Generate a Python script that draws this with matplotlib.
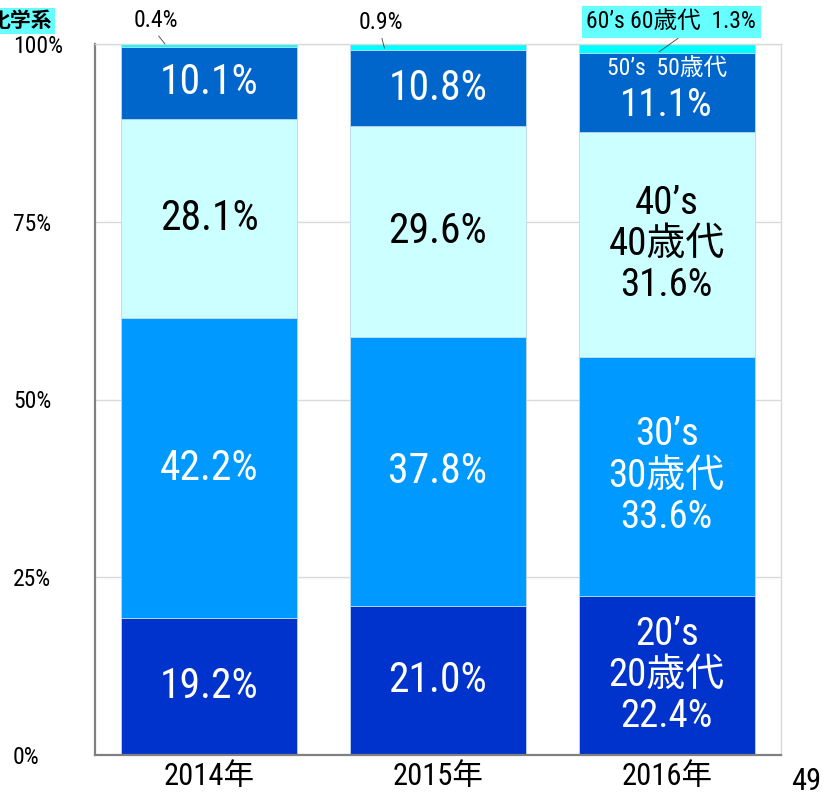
import matplotlib
matplotlib.use("Agg")
import matplotlib.pyplot as plt

# condensed latin font first, CJK fallback for 歳代 / 年 / 化学系
plt.rcParams['font.family'] = ['Roboto Condensed', 'Noto Sans CJK JP']

years = ["2014年", "2015年", "2016年"]
age20 = [19.2, 21.0, 22.4]
age30 = [42.2, 37.8, 33.6]
age40 = [28.1, 29.6, 31.6]
age50 = [10.1, 10.8, 11.1]
age60 = [0.4, 0.9, 1.3]
yticks = [0, 25, 50, 75, 100]
ytick_labels = ["0%", "25%", "50%", "75%", "100%"]

colors = ["#0033CC", "#0099FF", "#CCFFFF", "#0066CC", "#00FFFF"]
series = [age20, age30, age40, age50, age60]

fig = plt.figure(figsize=(8.24, 7.94), dpi=100)
ax = fig.add_axes([95/824, 1-755/794, (781-95)/824, (755-44)/794])

x = list(range(len(years)))
bottoms = [0, 0, 0]
for vals, c in zip(series, colors):
    ax.bar(x, vals, width=0.77, bottom=bottoms, color=c, edgecolor="#BDD7EE",
           linewidth=0.6, zorder=2)
    bottoms = [b + v for b, v in zip(bottoms, vals)]

ax.set_xlim(-0.5, 2.5)
ax.set_ylim(0, 100)
ax.set_yticks(yticks)
ax.set_yticklabels(ytick_labels, fontsize=17)
for lab in ax.get_yticklabels():
    lab.set_horizontalalignment("left")
ax.tick_params(axis="y", length=0, pad=59)
ax.set_xticks(x)
ax.set_xticklabels(years, fontsize=22)
ax.tick_params(axis="x", length=0, pad=5)
ax.grid(axis="y", color="#D9D9D9", linewidth=1, zorder=0)
ax.set_axisbelow(True)
for s in ["left", "bottom"]:
    ax.spines[s].set_color("#808080")
    ax.spines[s].set_linewidth(1.6)
for s in ["top", "right"]:
    ax.spines[s].set_color("#D9D9D9")
    ax.spines[s].set_linewidth(1)

# percentage labels, 2014 and 2015
txtcol = ["white", "white", "black", "white"]
for i in range(2):
    b = 0
    for vals, tc in zip(series[:4], txtcol):
        ax.text(i, b + vals[i] / 2, f"{vals[i]:.1f}%", ha="center", va="center",
                fontsize=30, color=tc, zorder=3)
        b += vals[i]

# 2016 with age names
names = ["20", "30", "40"]
b = 0
for vals, tc, n in zip(series[:3], txtcol, names):
    ax.text(2, b + vals[2] / 2, f"{n}’s\n{n}歳代\n{vals[2]:.1f}%", ha="center",
            va="center", fontsize=28, color=tc, linespacing=1.15, zorder=3)
    b += vals[2]
top50 = b + age50[2]
ax.text(2, top50 - 2.2, "50’s  50歳代", ha="center", va="center", fontsize=17,
        color="white", zorder=3)
ax.text(2, top50 - 7.4, f"{age50[2]:.1f}%", ha="center", va="center", fontsize=28,
        color="white", zorder=3)

# small 60's labels with leader lines
ax.annotate(f"{age60[0]:.1f}%", xy=(-0.194, 100), xytext=(-0.235, 103.3),
            ha="center", va="center", fontsize=17, annotation_clip=False,
            arrowprops=dict(arrowstyle="-", color="#404040", lw=0.6, shrinkA=1,
                            shrinkB=0, relpos=(0.5, 0)))
ax.annotate(f"{age60[1]:.1f}%", xy=(0.766, 99.4), xytext=(0.75, 103.0),
            ha="center", va="center", fontsize=17, annotation_clip=False,
            arrowprops=dict(arrowstyle="-", color="#404040", lw=0.6, shrinkA=1,
                            shrinkB=0, relpos=(0.5, 0)))
ax.annotate(f"60’s 60歳代  {age60[2]:.1f}%", xy=(1.967, 98.9), xytext=(2.02, 103.1),
            ha="center", va="center", fontsize=17, annotation_clip=False,
            bbox=dict(boxstyle="square,pad=0.2", fc="#66FFFF", ec="none"),
            arrowprops=dict(arrowstyle="-", color="#404040", lw=0.6, shrinkA=0,
                            shrinkB=0, relpos=(0.58, 0)))

fig.text(52/824, 1 - 21/794, "化学系", ha="right", va="center", fontsize=15,
         fontweight="bold", bbox=dict(boxstyle="square,pad=0.15", fc="#66FFFF", ec="none"))
fig.text(806/824, 1 - 781/794, "49", ha="center", va="center", fontsize=22)

fig.savefig("out.png", dpi=100)
